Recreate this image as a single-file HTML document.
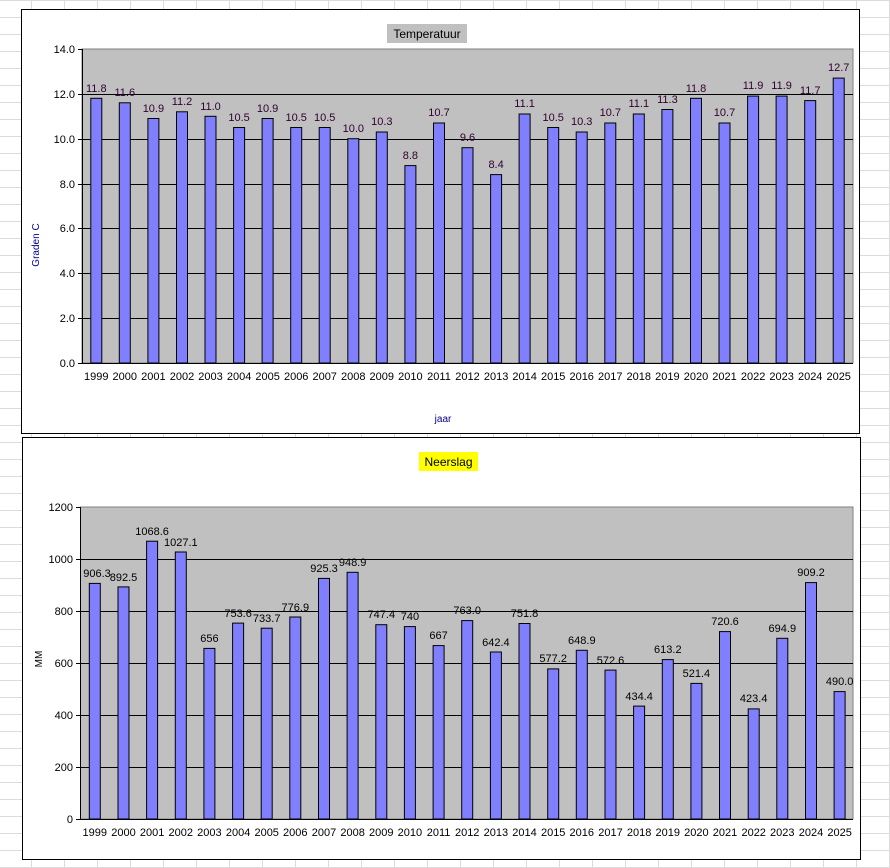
<!DOCTYPE html>
<html><head><meta charset="utf-8"><style>
html,body{margin:0;padding:0;}
body{width:890px;height:868px;overflow:hidden;background:#fff;
background-image:linear-gradient(to right,#dcdcdc 1px,transparent 1px),linear-gradient(to bottom,#dcdcdc 1px,transparent 1px);
background-size:33px 17px;background-position:-2px 0,0 0;}
svg{position:absolute;left:0;top:0;}
text{font-family:"Liberation Sans",sans-serif;font-size:11px;fill:#000;}
</style></head><body>
<svg width="890" height="868" xmlns="http://www.w3.org/2000/svg">
<!-- Chart 1 -->
<rect x="21.5" y="9.5" width="838" height="424" fill="#fff" stroke="#000" stroke-width="1"/>
<rect x="82" y="49" width="771" height="314" fill="#c0c0c0" stroke="#808080"/>
<g stroke="#000" stroke-width="1">
<line x1="82" x2="853" y1="94.5" y2="94.5"/><line x1="82" x2="853" y1="139.5" y2="139.5"/><line x1="82" x2="853" y1="184.5" y2="184.5"/><line x1="82" x2="853" y1="228.5" y2="228.5"/><line x1="82" x2="853" y1="273.5" y2="273.5"/><line x1="82" x2="853" y1="318.5" y2="318.5"/>
<line x1="82.5" x2="82.5" y1="49" y2="363"/><line x1="78" x2="853" y1="363.5" y2="363.5"/>
<line x1="78" x2="82" y1="49.5" y2="49.5"/><line x1="78" x2="82" y1="94.5" y2="94.5"/><line x1="78" x2="82" y1="139.5" y2="139.5"/><line x1="78" x2="82" y1="184.5" y2="184.5"/><line x1="78" x2="82" y1="228.5" y2="228.5"/><line x1="78" x2="82" y1="273.5" y2="273.5"/><line x1="78" x2="82" y1="318.5" y2="318.5"/>
</g>
<g text-anchor="end">
<text x="75" y="53">14.0</text><text x="75" y="98">12.0</text><text x="75" y="143">10.0</text><text x="75" y="188">8.0</text><text x="75" y="232">6.0</text><text x="75" y="277">4.0</text><text x="75" y="322">2.0</text><text x="75" y="367">0.0</text>
</g>
<rect x="387" y="24" width="80" height="19" fill="#c0c0c0"/>
<text x="427" y="38" text-anchor="middle" font-size="12" style="font-size:12px">Temperatuur</text>
<text x="39" y="245" text-anchor="middle" transform="rotate(-90 39 245)" style="fill:#00008b;font-size:10px">Graden C</text>
<text x="443" y="422" text-anchor="middle" style="font-size:10px;fill:#00008b">jaar</text>
<g fill="#8080ff" stroke="#000" stroke-width="1">
<rect x="90.8" y="98.3" width="11" height="264.7"/><rect x="119.3" y="102.8" width="11" height="260.2"/><rect x="147.9" y="118.5" width="11" height="244.5"/><rect x="176.5" y="111.8" width="11" height="251.2"/><rect x="205" y="116.3" width="11" height="246.7"/><rect x="233.6" y="127.5" width="11" height="235.5"/><rect x="262.1" y="118.5" width="11" height="244.5"/><rect x="290.7" y="127.5" width="11" height="235.5"/><rect x="319.2" y="127.5" width="11" height="235.5"/><rect x="347.8" y="138.7" width="11" height="224.3"/><rect x="376.3" y="132" width="11" height="231"/><rect x="404.9" y="165.6" width="11" height="197.4"/><rect x="433.5" y="123" width="11" height="240"/><rect x="462" y="147.7" width="11" height="215.3"/><rect x="490.6" y="174.6" width="11" height="188.4"/><rect x="519.1" y="114" width="11" height="249"/><rect x="547.7" y="127.5" width="11" height="235.5"/><rect x="576.2" y="132" width="11" height="231"/><rect x="604.8" y="123" width="11" height="240"/><rect x="633.3" y="114" width="11" height="249"/><rect x="661.9" y="109.5" width="11" height="253.5"/><rect x="690.5" y="98.3" width="11" height="264.7"/><rect x="719" y="123" width="11" height="240"/><rect x="747.6" y="96.1" width="11" height="266.9"/><rect x="776.1" y="96.1" width="11" height="266.9"/><rect x="804.7" y="100.6" width="11" height="262.4"/><rect x="833.2" y="78.1" width="11" height="284.9"/>
</g>
<g text-anchor="middle" style="fill:#300030">
<text x="96.3" y="92" style="fill:#300030">11.8</text><text x="124.8" y="96" style="fill:#300030">11.6</text><text x="153.4" y="112" style="fill:#300030">10.9</text><text x="182" y="105" style="fill:#300030">11.2</text><text x="210.5" y="110" style="fill:#300030">11.0</text><text x="239.1" y="121" style="fill:#300030">10.5</text><text x="267.6" y="112" style="fill:#300030">10.9</text><text x="296.2" y="121" style="fill:#300030">10.5</text><text x="324.7" y="121" style="fill:#300030">10.5</text><text x="353.3" y="132" style="fill:#300030">10.0</text><text x="381.8" y="125" style="fill:#300030">10.3</text><text x="410.4" y="159" style="fill:#300030">8.8</text><text x="439" y="116" style="fill:#300030">10.7</text><text x="467.5" y="141" style="fill:#300030">9.6</text><text x="496.1" y="168" style="fill:#300030">8.4</text><text x="524.6" y="107" style="fill:#300030">11.1</text><text x="553.2" y="121" style="fill:#300030">10.5</text><text x="581.7" y="125" style="fill:#300030">10.3</text><text x="610.3" y="116" style="fill:#300030">10.7</text><text x="638.8" y="107" style="fill:#300030">11.1</text><text x="667.4" y="103" style="fill:#300030">11.3</text><text x="696" y="92" style="fill:#300030">11.8</text><text x="724.5" y="116" style="fill:#300030">10.7</text><text x="753.1" y="89" style="fill:#300030">11.9</text><text x="781.6" y="89" style="fill:#300030">11.9</text><text x="810.2" y="94" style="fill:#300030">11.7</text><text x="838.7" y="71" style="fill:#300030">12.7</text>
</g>
<g text-anchor="middle">
<text x="96.3" y="380">1999</text><text x="124.8" y="380">2000</text><text x="153.4" y="380">2001</text><text x="182" y="380">2002</text><text x="210.5" y="380">2003</text><text x="239.1" y="380">2004</text><text x="267.6" y="380">2005</text><text x="296.2" y="380">2006</text><text x="324.7" y="380">2007</text><text x="353.3" y="380">2008</text><text x="381.8" y="380">2009</text><text x="410.4" y="380">2010</text><text x="439" y="380">2011</text><text x="467.5" y="380">2012</text><text x="496.1" y="380">2013</text><text x="524.6" y="380">2014</text><text x="553.2" y="380">2015</text><text x="581.7" y="380">2016</text><text x="610.3" y="380">2017</text><text x="638.8" y="380">2018</text><text x="667.4" y="380">2019</text><text x="696" y="380">2020</text><text x="724.5" y="380">2021</text><text x="753.1" y="380">2022</text><text x="781.6" y="380">2023</text><text x="810.2" y="380">2024</text><text x="838.7" y="380">2025</text>
</g>

<!-- Chart 2 -->
<rect x="22.5" y="437.5" width="838" height="422" fill="#fff" stroke="#000" stroke-width="1"/>
<rect x="80.5" y="507" width="772.5" height="312" fill="#c0c0c0" stroke="#808080"/>
<g stroke="#000" stroke-width="1">
<line x1="80" x2="853" y1="559.5" y2="559.5"/><line x1="80" x2="853" y1="611.5" y2="611.5"/><line x1="80" x2="853" y1="663.5" y2="663.5"/><line x1="80" x2="853" y1="715.5" y2="715.5"/><line x1="80" x2="853" y1="767.5" y2="767.5"/>
<line x1="80.5" x2="80.5" y1="507" y2="819"/><line x1="76" x2="853" y1="819.5" y2="819.5"/>
<line x1="76" x2="80" y1="507.5" y2="507.5"/><line x1="76" x2="80" y1="559.5" y2="559.5"/><line x1="76" x2="80" y1="611.5" y2="611.5"/><line x1="76" x2="80" y1="663.5" y2="663.5"/><line x1="76" x2="80" y1="715.5" y2="715.5"/><line x1="76" x2="80" y1="767.5" y2="767.5"/>
</g>
<g text-anchor="end">
<text x="73" y="511">1200</text><text x="73" y="563">1000</text><text x="73" y="615">800</text><text x="73" y="667">600</text><text x="73" y="719">400</text><text x="73" y="771">200</text><text x="73" y="823">0</text>
</g>
<rect x="419" y="452" width="59" height="19" fill="#ffff00"/>
<text x="448.5" y="466" text-anchor="middle" style="font-size:12px">Neerslag</text>
<text x="42" y="659" text-anchor="middle" transform="rotate(-90 42 659)" style="font-size:10px">MM</text>
<g fill="#8080ff" stroke="#000" stroke-width="1">
<rect x="89.3" y="583.4" width="11" height="235.6"/><rect x="118" y="586.9" width="11" height="232.1"/><rect x="146.6" y="541.2" width="11" height="277.8"/><rect x="175.3" y="552" width="11" height="267"/><rect x="203.9" y="648.4" width="11" height="170.6"/><rect x="232.6" y="623.1" width="11" height="195.9"/><rect x="261.2" y="628.2" width="11" height="190.8"/><rect x="289.8" y="617" width="11" height="202"/><rect x="318.5" y="578.4" width="11" height="240.6"/><rect x="347.1" y="572.3" width="11" height="246.7"/><rect x="375.8" y="624.7" width="11" height="194.3"/><rect x="404.4" y="626.6" width="11" height="192.4"/><rect x="433.1" y="645.6" width="11" height="173.4"/><rect x="461.7" y="620.6" width="11" height="198.4"/><rect x="490.4" y="652" width="11" height="167"/><rect x="519" y="623.5" width="11" height="195.5"/><rect x="547.7" y="668.9" width="11" height="150.1"/><rect x="576.3" y="650.3" width="11" height="168.7"/><rect x="605" y="670.1" width="11" height="148.9"/><rect x="633.6" y="706.1" width="11" height="112.9"/><rect x="662.3" y="659.6" width="11" height="159.4"/><rect x="690.9" y="683.4" width="11" height="135.6"/><rect x="719.5" y="631.6" width="11" height="187.4"/><rect x="748.2" y="708.9" width="11" height="110.1"/><rect x="776.8" y="638.3" width="11" height="180.7"/><rect x="805.5" y="582.6" width="11" height="236.4"/><rect x="834.1" y="691.6" width="11" height="127.4"/>
</g>
<g text-anchor="middle">
<text x="97" y="577">906.3</text><text x="123.5" y="581">892.5</text><text x="152.1" y="535">1068.6</text><text x="180.8" y="546">1027.1</text><text x="209.4" y="642">656</text><text x="238.1" y="617">753.6</text><text x="266.7" y="622">733.7</text><text x="295.3" y="611">776.9</text><text x="324" y="572">925.3</text><text x="352.6" y="566">948.9</text><text x="381.3" y="618">747.4</text><text x="409.9" y="620">740</text><text x="438.6" y="639">667</text><text x="467.2" y="614">763.0</text><text x="495.9" y="646">642.4</text><text x="524.5" y="617">751.8</text><text x="553.2" y="662">577.2</text><text x="581.8" y="644">648.9</text><text x="610.5" y="664">572.6</text><text x="639.1" y="700">434.4</text><text x="667.8" y="653">613.2</text><text x="696.4" y="677">521.4</text><text x="725" y="625">720.6</text><text x="753.7" y="702">423.4</text><text x="782.3" y="632">694.9</text><text x="811" y="576">909.2</text><text x="839.6" y="685">490.0</text>
</g>
<g text-anchor="middle">
<text x="94.8" y="836">1999</text><text x="123.5" y="836">2000</text><text x="152.1" y="836">2001</text><text x="180.8" y="836">2002</text><text x="209.4" y="836">2003</text><text x="238.1" y="836">2004</text><text x="266.7" y="836">2005</text><text x="295.3" y="836">2006</text><text x="324" y="836">2007</text><text x="352.6" y="836">2008</text><text x="381.3" y="836">2009</text><text x="409.9" y="836">2010</text><text x="438.6" y="836">2011</text><text x="467.2" y="836">2012</text><text x="495.9" y="836">2013</text><text x="524.5" y="836">2014</text><text x="553.2" y="836">2015</text><text x="581.8" y="836">2016</text><text x="610.5" y="836">2017</text><text x="639.1" y="836">2018</text><text x="667.8" y="836">2019</text><text x="696.4" y="836">2020</text><text x="725" y="836">2021</text><text x="753.7" y="836">2022</text><text x="782.3" y="836">2023</text><text x="811" y="836">2024</text><text x="839.6" y="836">2025</text>
</g>
</svg>
</body></html>
